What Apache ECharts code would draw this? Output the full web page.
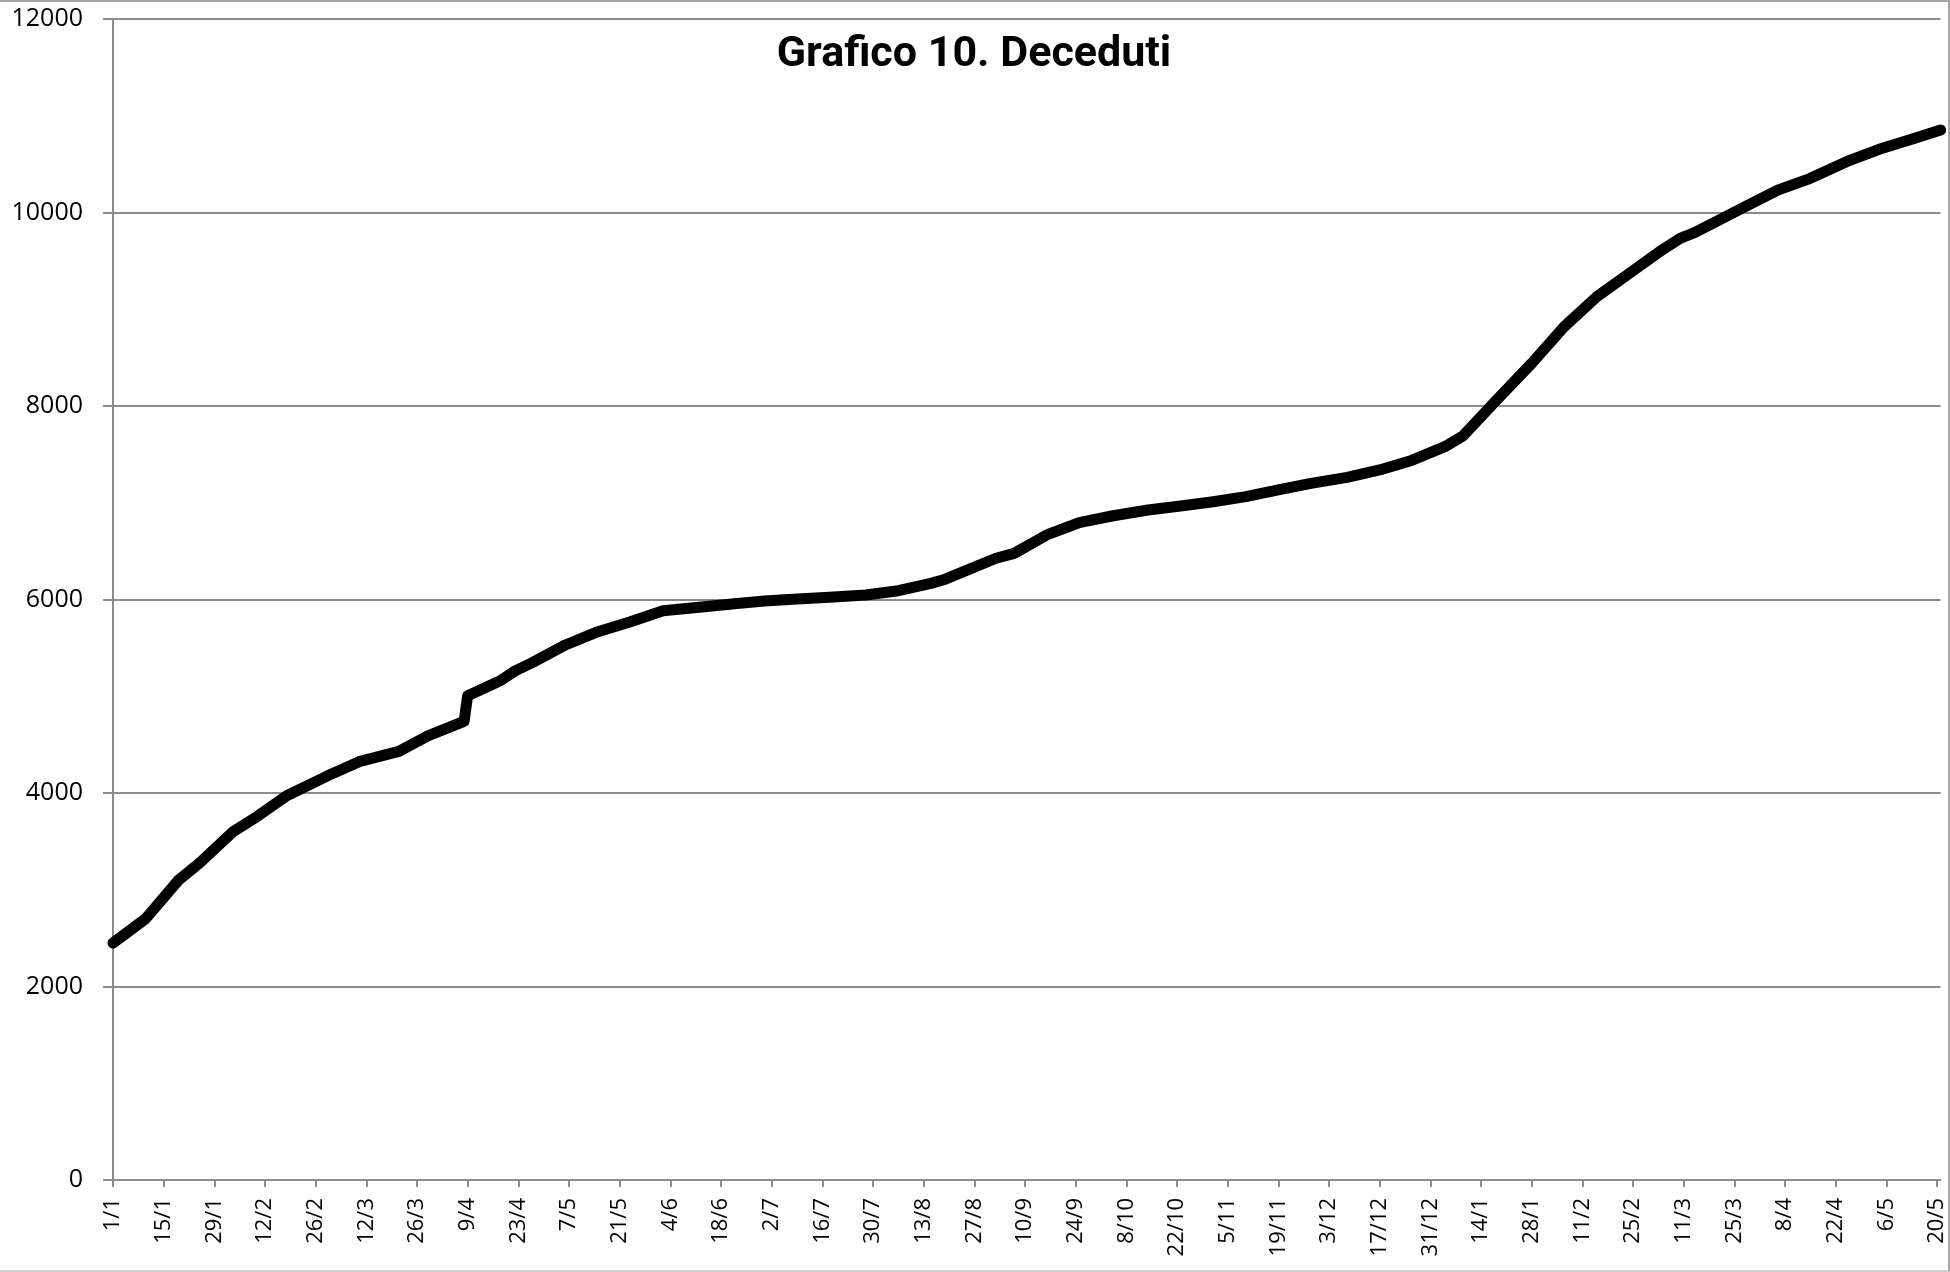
<!DOCTYPE html>
<html>
<head>
<meta charset="utf-8">
<script src="https://cdn.jsdelivr.net/npm/echarts@6/dist/echarts.min.js"></script>
<style>
  html, body { margin: 0; padding: 0; background: #fff; }
  #chart {
    width: 1950px; height: 1272px; box-sizing: border-box;
    border-top: 2px solid #a6a6a6; border-right: 2px solid #a6a6a6; border-bottom: 2px solid #d0d0d0;
  }
</style>
</head>
<body>
<div id="chart"></div>
<script>
// giorni dal 1/1 (asse x) e deceduti cumulati
var giorni = [0, 9, 18, 24, 33, 40, 48, 59, 68, 79, 87, 97, 98, 107, 111, 116, 125, 134, 143, 152,
  162, 171, 180, 189, 198, 208, 217, 226, 230, 235, 244, 249, 258, 267, 276, 286, 295, 304, 313,
  322, 331, 341, 350, 359, 368, 373, 382, 392, 401, 410, 419, 428, 433, 437, 442, 451, 460,
  469, 479, 488, 497, 505];
var deceduti = [2450, 2700, 3095, 3280, 3595, 3762, 3972, 4172, 4324, 4430, 4590, 4740, 5005, 5160, 5260, 5350, 5530, 5667, 5770, 5884,
  5919, 5953, 5984, 6005, 6023, 6046, 6091, 6167, 6210, 6288, 6426, 6477, 6667, 6794, 6863, 6925, 6966, 7011, 7063,
  7132, 7201, 7263, 7339, 7440, 7580, 7690, 8050, 8441, 8820, 9130, 9371, 9612, 9733, 9791, 9888, 10060, 10232,
  10353, 10525, 10653, 10756, 10853];
var etichette = ['1/1', '15/1', '29/1', '12/2', '26/2', '12/3', '26/3', '9/4', '23/4', '7/5', '21/5', '4/6',
  '18/6', '2/7', '16/7', '30/7', '13/8', '27/8', '10/9', '24/9', '8/10', '22/10', '5/11', '19/11', '3/12',
  '17/12', '31/12', '14/1', '28/1', '11/2', '25/2', '11/3', '25/3', '8/4', '22/4', '6/5', '20/5'];

var myChart = echarts.init(document.getElementById('chart'));
var punti = giorni.map(function (g, i) { return [g, deceduti[i]]; });

option = {
    animation: false,
    title: {
        text: 'Grafico 10. Deceduti',
        left: 'center',
        top: 27,
        textStyle: { fontFamily: 'Roboto', fontWeight: 'bold', fontSize: 43, color: '#000' }
    },
    grid: { left: 113, right: 3, top: 17, bottom: 90, containLabel: false },
    xAxis: {
        type: 'value',
        min: 0,
        max: 505,
        interval: 14,
        axisLine: { lineStyle: { color: '#8c8c8c', width: 2 } },
        axisTick: { show: true, length: 7, lineStyle: { color: '#8c8c8c', width: 2 } },
        splitLine: { show: false },
        axisLabel: {
            rotate: 90,
            margin: 18,
            showMaxLabel: false,
            fontFamily: 'Open Sans',
            fontSize: 22,
            color: '#000',
            formatter: function (v) {
                return v % 14 === 0 ? (etichette[v / 14] || '') : '';
            }
        }
    },
    yAxis: {
        type: 'value',
        min: 0,
        max: 12000,
        interval: 2000,
        axisLine: { show: true, lineStyle: { color: '#8c8c8c', width: 2 } },
        axisTick: { show: true, length: 10, lineStyle: { color: '#8c8c8c', width: 2 } },
        splitLine: { lineStyle: { color: '#8c8c8c', width: 2 } },
        axisLabel: {
            margin: 30, fontFamily: 'Open Sans', fontSize: 25, color: '#000',
            formatter: function (v) { return String(v); }
        }
    },
    series: [{
        name: 'Deceduti',
        type: 'line',
        data: punti,
        showSymbol: false,
        lineStyle: { color: '#000', width: 11, cap: 'round', join: 'round' }
    }]
};
myChart.setOption(option);
</script>
</body>
</html>
